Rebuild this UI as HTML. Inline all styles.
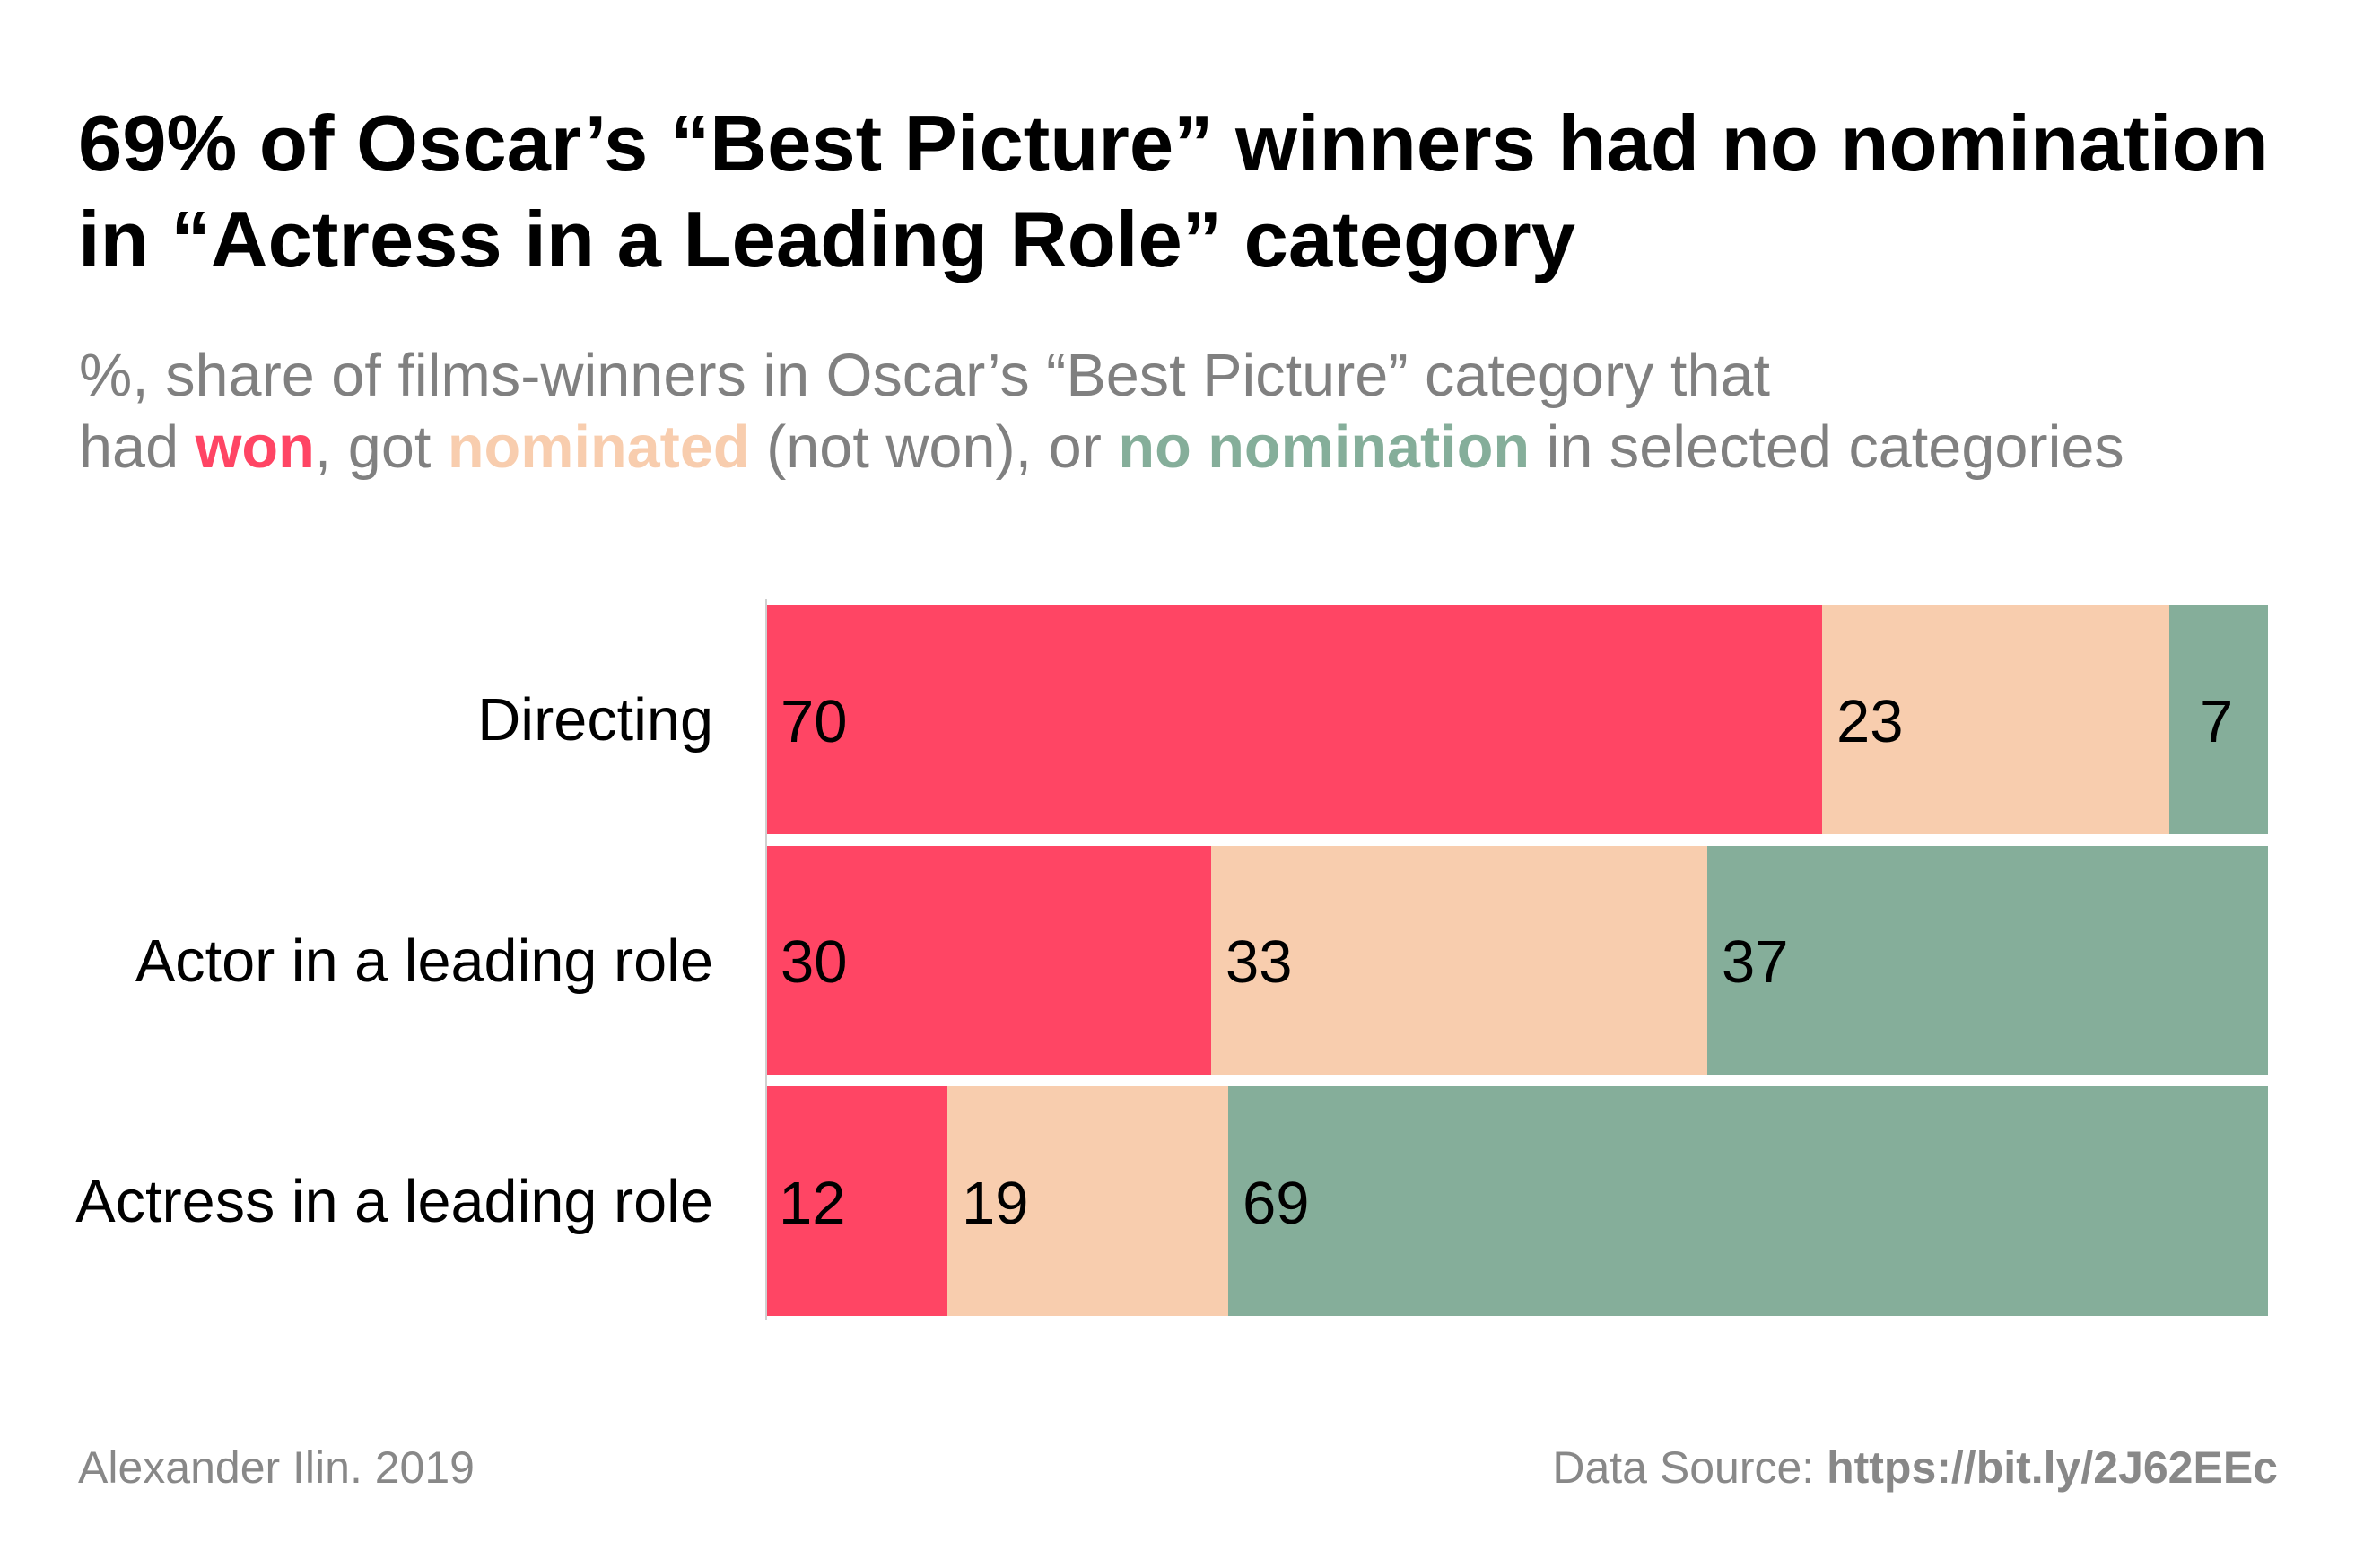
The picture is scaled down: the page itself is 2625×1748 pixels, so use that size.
<!DOCTYPE html>
<html>
<head>
<meta charset="utf-8">
<style>
  html, body { margin:0; padding:0; background:#ffffff; }
  svg { display:block; }
  text { font-family: "Liberation Sans", Arial, sans-serif; }
</style>
</head>
<body>
<svg width="2625" height="1748" viewBox="0 0 2625 1748" xmlns="http://www.w3.org/2000/svg">
  <rect x="0" y="0" width="2625" height="1748" fill="#ffffff"/>

  <!-- Title -->
  <text x="87" y="190" font-size="88.6" font-weight="bold" fill="#000000">69% of Oscar’s “Best Picture” winners had no nomination</text>
  <text x="87" y="297" font-size="88.6" font-weight="bold" fill="#000000">in “Actress in a Leading Role” category</text>

  <!-- Subtitle -->
  <text x="88" y="441" font-size="66.6" fill="#808080">%, share of films-winners in Oscar’s “Best Picture” category that</text>
  <text x="88" y="521" font-size="66.6" fill="#808080">had <tspan font-weight="bold" fill="#FF4564">won</tspan>, got <tspan font-weight="bold" fill="#F8CDAE">nominated</tspan> (not won), or <tspan font-weight="bold" fill="#85AE9A">no nomination</tspan> in selected categories</text>

  <!-- Axis line -->
  <rect x="853" y="668" width="2" height="804" fill="#d0d0d0"/>

  <!-- Bar 1: Directing -->
  <rect x="855" y="674" width="1176" height="256" fill="#FF4564"/>
  <rect x="2031" y="674" width="387" height="256" fill="#F8CDAE"/>
  <rect x="2418" y="674" width="110" height="256" fill="#85AE9A"/>

  <!-- Bar 2: Actor -->
  <rect x="855" y="943" width="495" height="255" fill="#FF4564"/>
  <rect x="1350" y="943" width="553" height="255" fill="#F8CDAE"/>
  <rect x="1903" y="943" width="625" height="255" fill="#85AE9A"/>

  <!-- Bar 3: Actress -->
  <rect x="855" y="1211" width="201" height="256" fill="#FF4564"/>
  <rect x="1056" y="1211" width="313" height="256" fill="#F8CDAE"/>
  <rect x="1369" y="1211" width="1159" height="256" fill="#85AE9A"/>

  <!-- Value labels -->
  <g font-size="67" fill="#000000">
    <text x="870" y="827">70</text>
    <text x="2047" y="827">23</text>
    <text x="2452" y="827">7</text>

    <text x="870" y="1095">30</text>
    <text x="1366" y="1095">33</text>
    <text x="1919" y="1095">37</text>

    <text x="868" y="1364">12</text>
    <text x="1072" y="1364">19</text>
    <text x="1385" y="1364">69</text>
  </g>

  <!-- Category labels -->
  <g font-size="66.6" fill="#000000" text-anchor="end">
    <text x="795" y="825">Directing</text>
    <text x="795" y="1094">Actor in a leading role</text>
    <text x="795" y="1362">Actress in a leading role</text>
  </g>

  <!-- Footer -->
  <text x="87" y="1653" font-size="50" fill="#888888">Alexander Ilin. 2019</text>
  <text x="2539" y="1653" font-size="50" fill="#888888" text-anchor="end">Data Source: <tspan font-weight="bold">https://bit.ly/2J62EEc</tspan></text>
</svg>
</body>
</html>
